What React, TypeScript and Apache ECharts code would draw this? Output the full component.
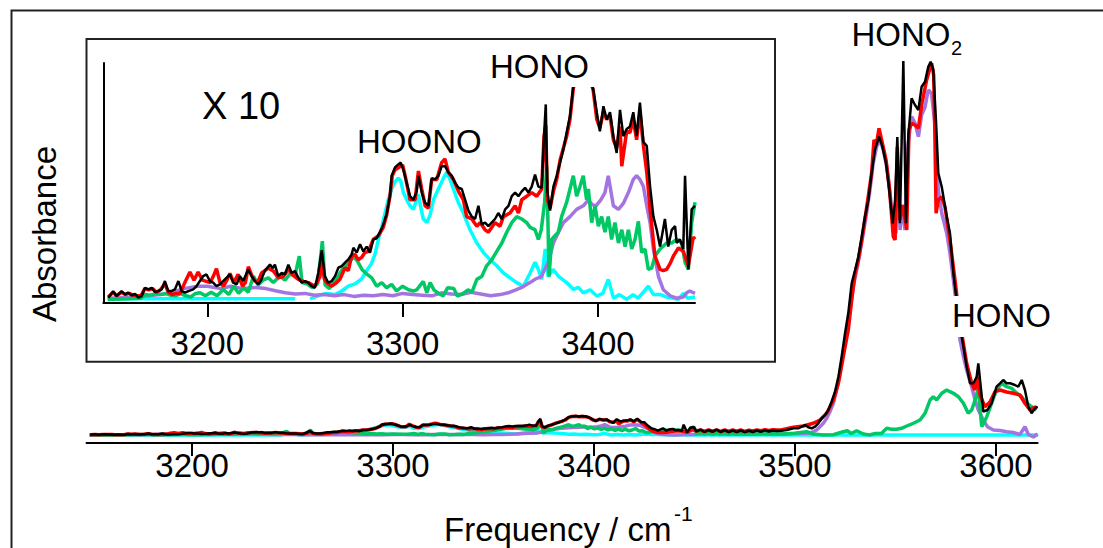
import React, { useEffect, useRef } from "react";
import * as echarts from "echarts";

const FONT = "'Liberation Sans', Arial, Helvetica, sans-serif";

// Tick labels (cm-1)
const mainTicks = [3200, 3300, 3400, 3500, 3600];
const insetTicks = [3200, 3300, 3400];
const insetUpper = 3450;

// Absorbance traces: [frequency cm-1, absorbance (arb. units)]
const blackTrace: number[][] = [
  [3149.3, 0.14], [3151.8, 0.69], [3153.5, 0.28], [3156.1, 0.69], [3157.8, 0.42], [3159.5, 0.56], [3161.3, 0.33], [3163, 0.47],
  [3164.7, 0.14], [3166.4, 0.28], [3168.1, 0.97], [3169.8, 0.83], [3171.5, 0.97], [3173.2, 0.61], [3174.9, 0.69], [3176.6, 0.83],
  [3178.3, 1.53], [3180, 0.69], [3181.7, 0.69], [3183.4, 0.83], [3185.2, 1.53], [3186.9, 0.69], [3188.6, 0.56], [3190.3, 0.69],
  [3192.8, 0.83], [3194.5, 1.11], [3196.2, 1.53], [3197.9, 1.94], [3199.6, 2.08], [3201.3, 1.53], [3203, 1.39], [3204.7, 1.11],
  [3206.4, 1.25], [3208.1, 1.53], [3209.9, 1.81], [3211.6, 2.08], [3213.3, 1.39], [3215, 1.25], [3216.7, 1.94], [3218.4, 1.53],
  [3220.9, 2.5], [3222.7, 1.94], [3224.4, 1.53], [3226.1, 1.25], [3227.5, 1.6], [3229.5, 2.4], [3232.1, 2.9], [3233.5, 2.6],
  [3234.6, 2.9], [3236.3, 1.94], [3238.1, 2.2], [3239.8, 2.1], [3241.5, 2.9], [3243.2, 2.2], [3244.9, 2.36], [3246.6, 1.8],
  [3248.3, 1.4], [3250, 1.53], [3251.7, 1.4], [3253.4, 1.1], [3255.1, 0.97], [3256.8, 2.2], [3258.6, 4.1], [3260.2, 1.94],
  [3261.9, 1.4], [3263.7, 1.53], [3265.4, 1.94], [3267.1, 2.64], [3268.8, 2.78], [3270.5, 3.06], [3272.2, 3.33], [3273.9, 3.75],
  [3274.8, 4.3], [3276.5, 3.9], [3278.2, 4.6], [3279.9, 4.0], [3281.6, 4.4], [3283.3, 3.9], [3285, 5.0], [3286.7, 5.1],
  [3288.4, 5.6], [3290.1, 6.25], [3291.8, 7.1], [3293.5, 8.6], [3294.4, 10.3], [3296.1, 11.0], [3297.8, 11.25], [3299, 11.4],
  [3300.4, 10.8], [3302.1, 9.7], [3303.8, 8.6], [3305.5, 8.3], [3307.2, 9.0], [3308.1, 10.3], [3309.8, 8.9], [3311.5, 8.05],
  [3313.2, 7.8], [3314.9, 10.1], [3316.6, 10.0], [3318.3, 10.3], [3320, 11.1], [3321.7, 11.1], [3323.4, 10.6], [3325.2, 10.3],
  [3326.9, 9.7], [3328.6, 9.3], [3330.3, 9.2], [3332, 8.3], [3333.7, 7.4], [3335.4, 6.9], [3337.1, 6.7], [3338.8, 7.8],
  [3340.5, 6.25], [3342.2, 6.4], [3343.9, 6.1], [3345.6, 6.4], [3347.3, 6.7], [3349, 7.2], [3350.8, 6.7], [3352.5, 7.5],
  [3354.2, 7.8], [3355.9, 8.6], [3357.6, 8.9], [3359.3, 8.6], [3361, 9.0], [3362.7, 9.3], [3364.4, 8.9], [3366.1, 9.4],
  [3367.8, 10.4], [3369.5, 9.4], [3371.2, 9.3], [3372.4, 13.6], [3373.3, 16.25], [3374.1, 9.0], [3375.5, 7.4], [3377.2, 9.4],
  [3378.9, 10.3], [3380.6, 11.4], [3382.3, 12.5], [3384, 13.9], [3385.7, 15.3], [3387.4, 17.8], [3389, 18.6], [3390.8, 18.9],
  [3392.5, 18.4], [3394.2, 19.0], [3396, 18.5], [3397.6, 17.5], [3399.4, 15.6], [3401, 14.0], [3402.8, 16.1], [3404.5, 15.0],
  [3406.2, 15.6], [3407.9, 13.6], [3409.6, 12.2], [3411.3, 15.8], [3413, 13.6], [3414.7, 14.2], [3416.4, 14.4], [3418.1, 15.6],
  [3419.8, 13.6], [3421.5, 16.4], [3423.3, 13.1], [3425, 12.8], [3426.7, 9.4], [3428.4, 6.9], [3430.1, 5.8], [3431.8, 4.4],
  [3434.3, 6.7], [3436, 4.4], [3437.8, 5.8], [3439.5, 6.1], [3440.3, 4.7], [3442, 5.0], [3443.7, 4.2], [3444.6, 10.3],
  [3446.3, 2.5], [3448, 7.5], [3449.7, 7.8],
  [3451, 3.5], [3453, 5.5], [3455, 3.0], [3457, 5.0], [3459, 3.2], [3461, 5.5], [3463, 3.0], [3465, 4.8], [3467, 2.8],
  [3469, 4.5], [3471, 3.0], [3473, 4.5], [3475, 2.8], [3477, 4.2], [3479, 3.0], [3481, 4.5], [3483, 3.2], [3485, 4.8],
  [3487, 3.5], [3489, 4.5], [3491, 4.0], [3493, 4.3], [3495.9, 5.0], [3499.2, 6.7], [3501.6, 6.7], [3503.3, 8.3], [3505, 10.0],
  [3506.6, 7.7], [3508.3, 6.7], [3510, 8.3], [3511.6, 11.7], [3513.3, 16.7], [3514.9, 20], [3516.6, 25], [3518.2, 33.3],
  [3519.9, 43.3], [3521.6, 58.3], [3523.2, 78.3], [3524.9, 101.7], [3526.5, 121.7], [3528.2, 151.7], [3529.9, 165],
  [3531.5, 178.3], [3533.2, 198.3], [3534.8, 218.3], [3536.5, 235], [3538.1, 261.7], [3539.8, 285], [3541.8, 298.3],
  [3543.5, 288.3], [3545.3, 271.7], [3546.9, 245], [3548.6, 211.7], [3549.8, 235], [3550.9, 298], [3552.2, 211.7],
  [3553.9, 374], [3555.2, 211.7], [3556.4, 300], [3558, 336.7], [3559.7, 330], [3561.4, 325], [3563, 348.3], [3564.7, 353.3],
  [3566.3, 368.3], [3567.5, 373.3], [3568.8, 365], [3570.2, 311.7], [3571.3, 261.7], [3573, 248.3], [3575.5, 218.3],
  [3577.1, 201.7], [3578.8, 161.7], [3580.4, 135], [3582.1, 108.3], [3583.8, 88.3], [3585.4, 68.3], [3587.1, 51.7],
  [3588.8, 51.7], [3590.4, 58.3], [3591.2, 71.7], [3592.4, 48.3], [3593.7, 23.3], [3595.7, 25], [3597.8, 31.7], [3600.3, 48.3],
  [3602, 51.7], [3603.6, 55], [3605.3, 51.7], [3607, 51.7], [3609.4, 50], [3611.1, 48.3], [3612.8, 55], [3614.4, 45],
  [3616.1, 28.3], [3617.7, 21.7], [3619.4, 26.7], [3620.6, 28.3],
];

const redTrace: number[][] = [
  [3149.3, 0.2], [3151.8, 0.6], [3153.5, 0.3], [3156.1, 0.6], [3158, 0.4], [3160, 0.5], [3162, 0.35], [3164, 0.3], [3166, 0.3],
  [3168, 0.9], [3170, 0.8], [3172, 0.9], [3174, 0.6], [3176, 0.8], [3178.3, 1.3], [3180, 0.6], [3182, 0.4], [3184, 0.5],
  [3186, 0.5], [3188.5, 1.4], [3191.1, 2.28], [3193.2, 1.6], [3195.3, 2.28], [3197.5, 1.6], [3199.5, 1.5], [3201.5, 1.4],
  [3203, 1.9], [3204.7, 2.56], [3206.5, 1.4], [3208.3, 1.1], [3210, 1.6], [3211.6, 2.17], [3213.5, 1.4], [3215.8, 2.08],
  [3218, 1.1], [3219.5, 1.4], [3221, 2.72], [3223, 1.9], [3224.5, 1.5], [3226, 1.5], [3227.8, 2.2], [3231.2, 2.6], [3233.8, 2.36],
  [3236.3, 1.8], [3238.8, 1.9], [3241.5, 2.5], [3244, 2.0], [3246.6, 1.67], [3249.2, 1.5], [3251.7, 1.4], [3255.1, 1.1],
  [3257.7, 1.9], [3258.5, 3.6], [3259.9, 1.7], [3261.1, 1.4], [3263.7, 1.1], [3266.2, 1.4], [3267.9, 1.67], [3270.5, 2.64],
  [3272.2, 2.4], [3273.9, 3.6], [3275.6, 3.75], [3277.3, 3.3], [3279, 3.5], [3280.7, 3.9], [3282.4, 4.0], [3285, 5.0],
  [3287.6, 5.3], [3290.1, 6.0], [3291.8, 7.0], [3293.5, 8.6], [3294.7, 10.3], [3296.1, 10.8], [3298.1, 11.0], [3300, 11.2],
  [3301.3, 10.3], [3303.8, 8.3], [3306.4, 8.3], [3308.1, 10.7], [3309.8, 9.2], [3311.5, 7.8], [3313.2, 7.6], [3314.9, 10.0],
  [3317.5, 10.0], [3320, 11.4], [3321.7, 11.7], [3323.4, 10.6], [3326, 10.0], [3328.6, 9.0], [3331.1, 8.3], [3332.8, 6.9],
  [3335.4, 6.7], [3338, 6.1], [3339.7, 6.4], [3342.2, 5.8], [3343.9, 5.6], [3345.6, 6.0], [3347.3, 6.4], [3349.9, 6.1],
  [3351.6, 6.9], [3355, 7.2], [3357.6, 7.8], [3359.3, 7.2], [3361, 8.3], [3363.6, 8.6], [3366.1, 8.9], [3368.7, 8.6],
  [3371.2, 9.2], [3372.4, 13.6], [3373.3, 14.5], [3374.1, 8.3], [3375.5, 7.6], [3377.2, 9.0], [3378.9, 10.0], [3380.6, 11.6],
  [3382.3, 12.6], [3384, 13.6], [3385.7, 15.0], [3387.4, 17.6], [3389, 18.5], [3390.8, 18.8], [3392.5, 18.2], [3394.2, 18.6],
  [3396, 18.3], [3397.6, 17.4], [3399.4, 15.0], [3401, 14.3], [3402.8, 15.6], [3404.5, 15.0], [3406.2, 15.3], [3407.9, 13.3],
  [3409.6, 12.6], [3411.3, 14.4], [3412.2, 11.1], [3414.7, 14.0], [3416.4, 13.9], [3418.1, 15.0], [3419.8, 13.3],
  [3421.5, 15.6], [3423.3, 12.8], [3425, 10.6], [3426.7, 7.5], [3429.2, 3.6], [3431.8, 2.5], [3433.5, 2.4], [3435.2, 2.5],
  [3437, 3.0], [3438.6, 3.6], [3441.2, 4.3], [3443.7, 4.0], [3445, 3.4], [3446.3, 2.8], [3448.8, 5.2], [3449.7, 5.0],
  [3451, 4.0], [3453, 5.0], [3455, 3.5], [3457, 5.0], [3459, 3.8], [3461, 5.2], [3463, 3.5], [3465, 5.0], [3467, 3.5],
  [3469, 5.0], [3471, 3.8], [3473, 5.0], [3475, 3.6], [3477, 4.8], [3479, 4.0], [3481, 5.0], [3483, 4.2], [3485, 5.2],
  [3487, 4.5], [3489, 5.2], [3491, 5.0], [3493, 5.0], [3499.2, 7.7], [3504.1, 9], [3509.1, 11.7], [3512.4, 15],
  [3515.8, 21.7], [3519.1, 35], [3521.6, 51.7], [3524, 78.3], [3526.5, 105], [3528.2, 135], [3529.9, 161.7], [3531.5, 175],
  [3533.2, 195], [3535.7, 228.3], [3538.1, 261.7], [3539.3, 295], [3540.6, 291.7], [3541.8, 306.7], [3543.1, 295],
  [3545.3, 275], [3546.9, 248.3], [3548.9, 198.3], [3549.8, 195], [3550.9, 288.3], [3552.2, 215], [3553.6, 230],
  [3555.6, 205], [3556.7, 305], [3558, 311.7], [3559.7, 310], [3561.4, 306.7], [3563, 330], [3565.5, 355], [3566.9, 365],
  [3568, 371.7], [3569, 360], [3569.6, 300], [3570.2, 221.7], [3571.3, 235], [3573, 238.3], [3574.6, 228.3], [3577.1, 195],
  [3579.6, 155], [3582.1, 111.7], [3585.4, 71.7], [3587.9, 51.7], [3589.5, 45], [3590.7, 58.3], [3592, 40], [3594.5, 28.3],
  [3597, 33], [3599.5, 43.3], [3602, 45], [3605.3, 43], [3608.6, 41.7], [3611.9, 40], [3614.4, 31.7], [3616.9, 25],
  [3619.4, 28], [3620.6, 27],
];

const hono2Trace: number[][] = [
  [3149, 0.1], [3160, 0.15], [3170, 0.3], [3180, 0.5], [3188, 0.9], [3195, 1.1], [3200, 1.1], [3207, 0.9], [3212, 1.1],
  [3218, 0.9], [3225, 1.0], [3230, 0.9], [3235.5, 0.7], [3240, 0.55], [3245, 0.45], [3250, 0.5], [3255, 0.35], [3260, 0.4],
  [3265, 0.3], [3270, 0.4], [3275, 0.25], [3280, 0.35], [3285, 0.3], [3290, 0.4], [3295, 0.3], [3300, 0.5], [3305, 0.4],
  [3310, 0.35], [3315, 0.3], [3320, 0.55], [3325, 0.45], [3330, 0.4], [3335, 0.6], [3340, 0.45], [3345, 0.3], [3350, 0.4],
  [3354, 0.55], [3358, 0.8], [3361, 1.0], [3365.2, 1.4], [3368, 1.7], [3371, 1.9], [3374.6, 3.1], [3377.2, 4.7],
  [3379.8, 5.6], [3382.3, 6.4], [3385.7, 6.9], [3389.1, 7.5], [3392.5, 7.8], [3395.1, 8.3], [3397, 7.9], [3399, 7.8],
  [3401.5, 8.3], [3403.6, 8.9], [3405.3, 10.3], [3407.9, 7.8], [3410.5, 7.5], [3413, 8.0], [3415.6, 8.9], [3418.1, 10.0],
  [3419.8, 10.3], [3421.5, 10.0], [3423.3, 9.4], [3425, 7.8], [3426.7, 6.4], [3428.4, 4.2], [3431, 1.9], [3433.5, 0.8],
  [3437, 0.3], [3440.3, 0.1], [3443.7, 0.2], [3445.4, 0.55], [3447, 0.7], [3449.7, 0.5],
  [3451, 0.8], [3455, 1.2], [3460, 0.9], [3465, 1.3], [3470, 1.0], [3475, 1.2], [3480, 1.0], [3485, 1.3], [3490, 1.2],
  [3495, 1.0], [3500, 1.4], [3505.8, 1.7], [3508, 2.3], [3510.8, 5], [3512.4, 8.3], [3514.1, 11.7], [3515.8, 16.7],
  [3517.4, 23.3], [3519.1, 31.7], [3520.7, 45], [3522.4, 61.7], [3524, 81.7], [3525.7, 101.7], [3527.4, 125], [3529, 148.3],
  [3530.7, 165], [3532.3, 181.7], [3534, 201.7], [3535.6, 221.7], [3537.3, 245], [3538.9, 271.7], [3540.6, 288.3],
  [3542.3, 295], [3543.9, 285], [3545.6, 268.3], [3547.3, 241.7], [3548.9, 208.3], [3550.2, 201.7], [3551, 270],
  [3552.3, 205], [3553.5, 230], [3554.7, 205], [3556.2, 290], [3558, 318.3], [3559.7, 312], [3561.4, 298.3], [3563, 320],
  [3564.7, 328], [3566.3, 345], [3567.9, 341.7], [3569.6, 311.7], [3571.3, 245], [3573, 221.7], [3575.5, 201.7],
  [3577.1, 181.7], [3578.8, 155], [3580.4, 128.3], [3582.1, 95], [3583.8, 78.3], [3585.4, 65], [3587.9, 48.3], [3589.6, 35],
  [3591.2, 25], [3593.7, 15], [3595.7, 8.3], [3598.7, 5], [3602, 4.5], [3605.3, 3.3], [3608.6, 2.5], [3611.9, 0.5],
  [3614.4, 8.3], [3616.1, 0.5], [3618.6, -2], [3620.6, 1],
];

const honoTrace: number[][] = [
  [3149, 0.0], [3160, 0.05], [3166, 0.1], [3168, 0.4], [3171, 0.35], [3174, 0.5], [3176, 0.4], [3179, 0.5], [3181, 0.35],
  [3184, 0.3], [3186, 0.5], [3189, 0.3], [3191.5, 0.2], [3194, 0.5], [3196.3, 0.55], [3199, 0.3], [3202, 0.6], [3205, 0.3],
  [3208.2, 0.83], [3211, 0.4], [3213.6, 1.1], [3216, 0.5], [3218.6, 0.97], [3221, 0.6], [3223.6, 1.94], [3226, 1.2],
  [3228.5, 1.6], [3231.2, 1.8], [3233.8, 1.4], [3237.2, 1.94], [3239.8, 1.6], [3242.3, 2.1], [3244.9, 2.0], [3247.1, 3.6],
  [3248.5, 1.4], [3251, 1.3], [3253.5, 1.0], [3256.5, 1.3], [3258.9, 4.86], [3260.3, 1.2], [3262.5, 0.9], [3264.6, 1.4],
  [3266.9, 1.94], [3269.5, 2.6], [3272.2, 3.05], [3274.8, 3.5], [3276.5, 3.3], [3279.2, 2.5], [3281.7, 2.1], [3284.2, 1.8],
  [3286.7, 1.1], [3289.3, 1.4], [3291.8, 0.97], [3294.4, 1.25], [3296.9, 0.7], [3300, 1.1], [3303, 0.8], [3305.5, 0.7],
  [3307.2, 0.8], [3310.6, 1.5], [3312.4, 0.55], [3314.1, 1.4], [3316, 0.8], [3318, 0.55], [3320.8, 0.28], [3323, 0.97],
  [3326.2, 0.9], [3328, 0.28], [3331, 0.5], [3333.5, 0.8], [3335.5, 0.6], [3338, 1.67], [3340.5, 1.9], [3343, 2.8],
  [3345.6, 3.3], [3348.2, 4.0], [3350.8, 4.7], [3353.3, 5.6], [3355.9, 6.4], [3358.4, 6.9], [3361, 6.7], [3363.5, 6.4],
  [3365.3, 6.0], [3367.8, 5.8], [3369.5, 5.0], [3371, 5.8], [3372.7, 8.1], [3373.8, 11.1], [3375, 1.9], [3376.3, 5.0],
  [3378, 5.3], [3379.7, 5.6], [3381.4, 6.9], [3384, 8.1], [3385.7, 9.2], [3387.4, 10.3], [3389.1, 8.6], [3390.8, 9.4],
  [3392.5, 10.3], [3394.2, 8.3], [3395.1, 9.2], [3396.8, 6.4], [3398.5, 7.8], [3400.2, 6.1], [3401.9, 6.9], [3403.6, 5.6],
  [3405.3, 6.9], [3407, 5.0], [3408.7, 6.4], [3410.5, 4.7], [3412.2, 5.8], [3413.9, 4.4], [3415.6, 5.8], [3417.3, 4.2],
  [3419, 5.0], [3420.7, 6.5], [3422.4, 3.9], [3424.1, 4.2], [3425.8, 2.5], [3427.5, 2.6], [3429.2, 3.6], [3431.8, 4.2],
  [3435.2, 4.7], [3437.8, 4.7], [3440.3, 5.0], [3442.9, 4.7], [3444.6, 3.1], [3446.3, 2.5], [3448, 6.4], [3449.7, 8.1],
  [3451, 1.5], [3453, 2.5], [3455, 1.2], [3457, 2.2], [3459, 1.0], [3461, 2.0], [3463, 1.0], [3465, 1.8], [3467, 0.8],
  [3469, 1.7], [3471, 0.8], [3473, 1.5], [3475, 0.8], [3477, 1.3], [3480, 1.0], [3483, 1.3], [3486, 1.0], [3490, 1.2],
  [3494, 1.0], [3500, 1.7], [3505.8, 3.3], [3509, 1.0], [3514, 0.0], [3519, 0.3], [3524, 3.3], [3526, 4.3], [3528, 1.5],
  [3530.7, 4.3], [3534, 1.0], [3537, 0.0], [3540, 1.5], [3543, 1.5], [3545.6, 6.7], [3548, 5.7], [3550.5, 5.7], [3553, 6.7],
  [3555.6, 9], [3558.9, 11.7], [3562.2, 15], [3564.7, 21.7], [3567.2, 35], [3568.8, 38.3], [3570.5, 35], [3573, 41.7],
  [3575.5, 45], [3577.1, 43.3], [3578.8, 41.7], [3581.3, 38.3], [3583.8, 31.7], [3586.2, 21.7], [3587.9, 25], [3589.6, 35],
  [3591.2, 46.7], [3592.9, 8.3], [3595.4, 18.3], [3597.8, 31.7], [3600.3, 45], [3602.8, 51.7], [3605.3, 48.3],
  [3607.8, 46.7], [3610.3, 41.7], [3612.8, 38.3], [3615.3, 31.7], [3617.7, 28.3], [3620.2, 25],
];

const hoonoTrace: number[][] = [
  [3149, 0.05], [3245, 0.05], [3248.5, NaN], [3252.6, 0.05], [3258.5, 0.4], [3261, 0.5], [3265.4, 0.4], [3268.8, 0.7],
  [3272.2, 1.1], [3275.6, 1.3], [3279, 1.7], [3282.4, 2.6], [3284.1, 3.0], [3285.9, 3.8], [3287.6, 5.0], [3289.3, 6.0],
  [3291, 7.2], [3292.7, 8.3], [3294.4, 9.2], [3296.1, 9.8], [3297.8, 10.1], [3299, 9.9], [3300.4, 8.9], [3302.1, 8.3],
  [3303.8, 7.8], [3305.5, 7.5], [3307, 8.2], [3308.1, 8.75], [3309.5, 7.5], [3310.6, 6.7], [3312.4, 6.4], [3314, 7.0],
  [3315.8, 8.3], [3318.3, 9.2], [3320.9, 10.1], [3322.6, 10.6], [3324.3, 10.0], [3326, 9.2], [3328.6, 8.05], [3331.1, 7.2],
  [3334.5, 5.8], [3338, 4.7], [3341.4, 3.9], [3344.8, 3.3], [3348.2, 2.8], [3351.6, 2.2], [3355, 1.8], [3358.4, 1.4],
  [3361.8, 1.1], [3365.3, 2.2], [3367.8, 3.1], [3369.5, 2.5], [3371.2, 1.67], [3373, 4.2], [3374.5, 1.9], [3377, 2.5],
  [3380, 1.9], [3384, 1.4], [3387.5, 0.83], [3390, 1.0], [3392.5, 0.55], [3396, 0.8], [3399.4, 0.28], [3402.5, 0.5],
  [3405.3, 1.67], [3408, 0.1], [3411, 0.4], [3414.7, 0.0], [3418, 0.4], [3420.5, 0.1], [3423.3, 0.6], [3425.8, 1.1],
  [3428.4, 0.4], [3432, 0.4], [3435.2, 0.2], [3438.6, 0.1], [3441.2, 0], [3443.7, 0.5], [3446, 0.1], [3449.7, 0.2],
  [3452, 0], [3621, 0],
];

const traces = [
  { name: "HOONO", data: hoonoTrace, color: "#00ffff", width: 3.5 },
  { name: "HONO2", data: hono2Trace, color: "#a474e0", width: 3.5 },
  { name: "HONO", data: honoTrace, color: "#00c864", width: 3.5 },
  { name: "red", data: redTrace, color: "#ff0000", width: 3.5 },
  { name: "black", data: blackTrace, color: "#000000", width: 2.5 },
];

export default function App() {
  const ref = useRef<HTMLDivElement>(null);
  useEffect(() => {
    document.body.style.margin = "0";
    const chart = echarts.init(ref.current as HTMLDivElement, null, { renderer: "svg" });
    const series: any[] = [];
    traces.forEach((t) => {
      series.push({
        type: "line", name: t.name, xAxisIndex: 0, yAxisIndex: 0, data: t.data,
        symbol: "none", showSymbol: false, silent: true, z: 2, clip: true,
        lineStyle: { color: t.color, width: t.width }, itemStyle: { color: t.color },
      });
    });
    traces.forEach((t) => {
      series.push({
        type: "line", name: t.name + " x10", xAxisIndex: 1, yAxisIndex: 1,
        data: t.data.filter((p) => p[0] <= insetUpper),
        symbol: "none", showSymbol: false, silent: true, z: 5, clip: true,
        lineStyle: { color: t.color, width: t.width }, itemStyle: { color: t.color },
      });
    });
    const txt = (text: string, x: number, y: number, size: number, z = 10, align = "left") => ({
      type: "text", x, y, z, silent: true,
      style: { text, fontSize: size, fontFamily: FONT, fill: "#000", align, verticalAlign: "middle" },
    });
    const whiteBox = (x: number, y: number, w: number, h: number) => ({
      type: "rect", z: 8, silent: true, shape: { x, y, width: w, height: h }, style: { fill: "#fff" },
    });
    const option: any = {
      animation: false,
      backgroundColor: "#fff",
      grid: [
        { left: 86.5, top: 44, width: 951.1, height: 399 },
        { left: 103.3, top: 63, width: 591.7, height: 240 },
      ],
      xAxis: [
        {
          type: "value", gridIndex: 0, min: 3147.5, max: 3620.7, z: 1,
          axisLine: { show: true, onZero: false, lineStyle: { color: "#000", width: 2 } },
          axisTick: { show: true, length: 13, customValues: mainTicks, lineStyle: { color: "#000", width: 2 } },
          axisLabel: { show: true, customValues: mainTicks, margin: 6, fontSize: 33, color: "#000", fontFamily: FONT, formatter: (v: number) => String(v) },
          splitLine: { show: false },
        },
        {
          type: "value", gridIndex: 1, min: 3146.75, max: 3449.7, z: 5,
          axisLine: { show: true, onZero: false, lineStyle: { color: "#000", width: 2 } },
          axisTick: { show: true, length: 14, customValues: insetTicks, lineStyle: { color: "#000", width: 2 } },
          axisLabel: { show: true, customValues: insetTicks, margin: 24, fontSize: 33, color: "#000", fontFamily: FONT, formatter: (v: number) => String(v) },
          splitLine: { show: false },
        },
      ],
      yAxis: [
        { type: "value", gridIndex: 0, min: -8, max: 391, show: false, splitLine: { show: false } },
        {
          type: "value", gridIndex: 1, min: -0.3, max: 19.7, z: 5,
          axisLine: { show: true, onZero: false, lineStyle: { color: "#000", width: 2 } },
          axisTick: { show: false }, axisLabel: { show: false }, splitLine: { show: false },
        },
      ],
      graphic: {
        elements: [
          { type: "rect", z: 0, silent: true, shape: { x: 11.5, y: 10.5, width: 1120, height: 560 }, style: { fill: "none", stroke: "#222", lineWidth: 2 } },
          { type: "rect", z: 3, silent: true, shape: { x: 86.5, y: 39, width: 688.5, height: 322.7 }, style: { fill: "#fff", stroke: "#222", lineWidth: 2 } },
          txt("X 10", 202, 105.5, 38),
          txt("HOONO", 357, 141.7, 33),
          whiteBox(486, 44, 108, 43),
          txt("HONO", 490, 66.7, 33),
          whiteBox(848, 14, 120, 45),
          txt("HONO", 851.5, 34.5, 33),
          txt("2", 951, 48, 20),
          whiteBox(949, 296, 104, 41),
          txt("HONO", 952, 315, 33),
          txt("Frequency / cm", 444, 529, 33),
          txt("-1", 674, 513, 21),
          {
            type: "text", x: 44, y: 234, rotation: Math.PI / 2, z: 10, silent: true,
            style: { text: "Absorbance", fontSize: 33, fontFamily: FONT, fill: "#000", align: "center", verticalAlign: "middle" },
          },
        ],
      },
      series,
    };
    chart.setOption(option);
    return () => chart.dispose();
  }, []);
  return <div ref={ref} style={{ width: 1103, height: 548 }} />;
}
